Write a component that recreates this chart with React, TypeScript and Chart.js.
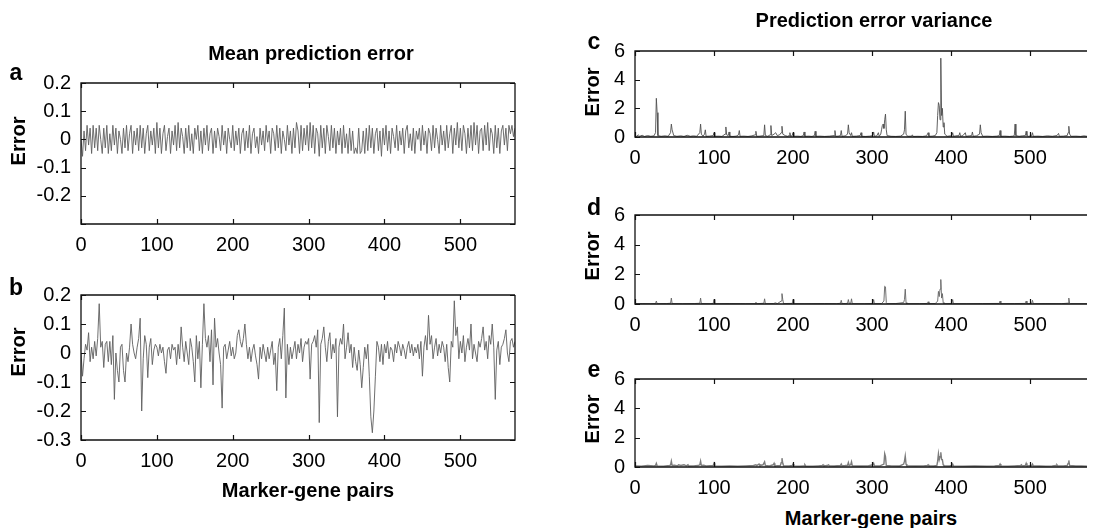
import React, { useEffect, useRef } from 'react';
import { Chart, registerables } from 'chart.js';

Chart.register(...registerables);

const FONT = "'Liberation Sans', Arial, Helvetica, sans-serif";

// x axis: marker-gene pair index (panels a and b sampled every 2 pairs)
const X_MAX = 572;
const X_TICKS = [0, 100, 200, 300, 400, 500];
const pairIndex = Array.from({ length: 287 }, (_, i) => i * 2);

// Panel a: mean prediction error (model 1)
const meanErrorA = [
  0.0, -0.06, 0.03, -0.04, 0.05, -0.02, 0.04, -0.05, 0.05, -0.03,
  0.04, -0.04, 0.05, 0.0, -0.05, 0.04, -0.03, 0.05, -0.05, 0.02,
  -0.04, 0.05, -0.02, 0.04, -0.05, 0.03, 0.0, -0.05, 0.04, -0.03,
  0.05, -0.04, 0.02, 0.05, -0.05, 0.03, -0.02, 0.04, -0.04, 0.05,
  -0.03, 0.04, -0.05, 0.02, 0.05, -0.04, 0.03, -0.02, 0.04, -0.05,
  0.06, -0.03, 0.04, -0.05, 0.02, 0.05, -0.04, 0.01, 0.04, -0.05,
  0.03, -0.02, 0.05, -0.04, 0.06, -0.03, 0.04, 0.01, -0.05, 0.04,
  -0.03, 0.05, -0.04, 0.02, -0.05, 0.04, 0.0, 0.05, -0.04, 0.03,
  -0.05, 0.04, -0.02, 0.05, -0.04, 0.02, 0.04, -0.05, 0.03, -0.03,
  0.04, 0.01, -0.04, 0.05, -0.02, 0.03, -0.05, 0.04, 0.0, -0.03,
  0.05, -0.04, 0.03, -0.02, 0.04, -0.05, 0.02, 0.04, -0.04, 0.03,
  -0.03, 0.05, -0.05, 0.02, 0.04, -0.03, 0.01, -0.05, 0.04, -0.02,
  0.03, -0.04, 0.05, -0.01, 0.03, -0.05, 0.04, 0.02, -0.04, 0.05,
  -0.03, 0.04, -0.05, 0.03, 0.0, -0.04, 0.05, -0.02, 0.03, -0.05,
  0.04, -0.03, 0.06, 0.03, -0.05, 0.05, -0.04, 0.04, -0.02, 0.05,
  -0.04, 0.06, -0.03, 0.05, -0.05, 0.04, 0.02, -0.06, 0.05, -0.03,
  0.04, -0.05, 0.05, 0.01, -0.04, 0.05, -0.03, 0.04, -0.05, 0.03,
  -0.02, 0.04, -0.05, 0.05, -0.03, 0.02, -0.05, 0.04, -0.04, 0.03,
  -0.05, -0.03, -0.05, 0.04, -0.05, -0.04, 0.03, -0.05, 0.04, -0.04,
  0.05, -0.03, 0.04, -0.05, 0.02, 0.04, -0.04, 0.03, -0.06, 0.04,
  -0.02, 0.05, -0.04, 0.03, -0.05, 0.04, 0.01, -0.03, 0.05, -0.04,
  0.03, -0.02, 0.04, -0.05, 0.03, 0.05, -0.03, 0.02, -0.04, 0.04,
  -0.05, 0.03, 0.0, 0.04, -0.04, 0.05, -0.02, 0.03, -0.05, 0.04,
  0.02, -0.04, 0.05, -0.03, 0.04, 0.0, -0.05, 0.05, -0.02, 0.03,
  -0.04, 0.05, -0.03, 0.02, 0.05, -0.05, 0.04, -0.02, 0.06, -0.03,
  0.04, -0.04, 0.05, 0.02, -0.05, 0.04, -0.03, 0.05, -0.04, 0.06,
  -0.02, 0.05, -0.05, 0.03, 0.04, -0.04, 0.05, -0.02, 0.06, -0.04,
  0.04, 0.02, -0.05, 0.05, -0.03, 0.04, -0.05, 0.03, 0.05, -0.02,
  0.04, -0.04, 0.05, 0.02, 0.05, 0.01, 0.04,
];

// Panel b: mean prediction error (model 2)
const meanErrorB = [
  0.0, -0.08, -0.02, 0.03, 0.01, 0.07, -0.03, 0.02, -0.02, 0.04,
  -0.01, 0.05, 0.17, 0.02, 0.04, -0.05, 0.03, 0.04, -0.03, 0.04,
  -0.04, 0.06, -0.16, 0.0, -0.06, -0.1, 0.02, 0.03, -0.06, -0.1,
  0.0, -0.03, 0.02, 0.1, 0.03, 0.0, -0.02, 0.02, 0.05, 0.12,
  -0.2, -0.02, 0.06, 0.03, -0.085, 0.02, 0.05, -0.04, 0.01, 0.03,
  0.02, -0.01, 0.03, 0.0, 0.02, -0.03, -0.07, 0.01, 0.02, -0.02,
  0.03, 0.01, 0.02, -0.04, 0.03, -0.02, 0.09, 0.02, -0.03, 0.04,
  0.0, -0.04, 0.05, 0.02, -0.03, -0.1, 0.06, -0.02, 0.04, -0.12,
  0.03, 0.17, 0.05, 0.02, 0.06, -0.03, 0.08, -0.11, 0.12, 0.02,
  0.05, 0.0, -0.04, -0.19, 0.02, 0.03, -0.02, 0.01, 0.04, -0.01,
  0.02, -0.02, 0.0, 0.06, 0.08, 0.04, 0.02, 0.05, 0.1, 0.03,
  -0.02, 0.02, -0.03, 0.01, 0.03, -0.01, -0.04, -0.09, 0.02, -0.02,
  0.03, 0.0, -0.03, 0.02, -0.02, 0.01, 0.04, -0.04, 0.0, -0.13,
  0.02, 0.05, -0.02, 0.06, 0.155, -0.155, 0.03, -0.04, 0.02, -0.02,
  0.01, 0.04, -0.02, 0.03, 0.0, 0.05, -0.03, 0.02, 0.04, 0.03,
  0.05, -0.09, 0.03, 0.04, 0.06, 0.02, 0.08, -0.24, 0.03, 0.05,
  0.09, 0.02, -0.03, 0.04, 0.07, -0.02, 0.03, 0.0, 0.05, -0.22,
  0.02, 0.05, 0.03, 0.1, -0.02, 0.02, 0.07, 0.0, 0.03, -0.05,
  0.02, -0.03, -0.06, 0.01, -0.04, -0.12, -0.05, 0.02, -0.02, 0.03,
  -0.08, -0.22, -0.275, -0.2, -0.08, 0.04, 0.02, -0.03, 0.03, -0.04,
  0.03, 0.0, 0.04, -0.02, 0.02, 0.01, -0.03, 0.03, 0.0, 0.04,
  0.02, -0.01, 0.03, 0.01, -0.02, 0.02, 0.04, 0.0, 0.03, -0.01,
  0.02, 0.0, 0.03, -0.02, 0.04, -0.08, 0.02, 0.06, 0.01, 0.13,
  0.03, 0.06, -0.02, 0.02, 0.05, -0.01, 0.03, 0.0, 0.04, 0.02,
  -0.03, 0.03, -0.05, -0.1, 0.04, 0.02, 0.18, 0.06, 0.09, -0.02,
  0.04, 0.0, 0.06, -0.03, 0.02, 0.05, 0.01, 0.1, -0.02, 0.03,
  0.0, -0.03, 0.04, 0.02, 0.05, 0.09, 0.01, 0.04, -0.02, 0.06,
  0.03, 0.1, 0.02, -0.16, 0.01, 0.04, -0.04, 0.02, 0.03, 0.05,
  0.08, 0.0, -0.03, 0.04, 0.05, 0.02, 0.04,
];

// Panel c: prediction error variance, [pair index, variance]
const varianceC: [number, number][] = [
  [0,0.15],[2,0.05],[4,0.15],[6,0.05],[9,0.12],[12,0.04],[16,0.1],[20,0.05],[24,0.08],[26,0.3],[27,2.7],[28,1.7],[29,0.1],
  [33,0.05],[38,0.08],[42,0.05],[45,0.3],[46,0.9],[47,0.5],[49,0.1],[53,0.05],[58,0.08],[62,0.04],[66,0.12],[70,0.05],
  [74,0.08],[78,0.05],[82,0.3],[83,0.9],[84,0.2],[86,0.05],[88,0.2],[89,0.5],[90,0.05],[94,0.06],[99,0.1],[100,0.3],
  [101,0.05],[106,0.06],[110,0.04],[114,0.2],[115,0.7],[116,0.15],[118,0.1],[119,0.35],[120,0.05],[124,0.04],[128,0.06],
  [131,0.15],[132,0.45],[133,0.05],[138,0.06],[143,0.04],[148,0.08],[152,0.15],[153,0.4],[154,0.05],[158,0.06],[163,0.1],
  [164,0.85],[165,0.1],[168,0.05],[171,0.15],[172,0.8],[173,0.1],[176,0.2],[178,0.3],[180,0.1],[183,0.15],[185,0.3],
  [186,0.75],[187,0.2],[190,0.1],[193,0.05],[195,0.1],[196,0.3],[197,0.05],[199,0.1],[200,0.3],[201,0.05],[206,0.06],
  [210,0.04],[213,0.1],[214,0.35],[215,0.05],[220,0.06],[224,0.04],[227,0.1],[228,0.4],[229,0.05],[234,0.06],[240,0.04],
  [246,0.06],[252,0.1],[253,0.45],[254,0.05],[257,0.06],[260,0.1],[261,0.45],[262,0.05],[266,0.08],[269,0.2],[270,0.85],
  [271,0.3],[273,0.1],[274,0.3],[275,0.05],[280,0.06],[285,0.1],[286,0.3],[287,0.05],[292,0.04],[297,0.06],[301,0.1],
  [302,0.35],[303,0.05],[306,0.08],[308,0.3],[309,0.05],[311,0.2],[312,0.5],[313,0.8],[314,0.9],[315,0.6],[316,1.2],
  [317,1.6],[318,0.5],[319,0.1],[324,0.05],[330,0.04],[336,0.06],[340,0.2],[341,0.5],[342,1.8],[343,0.2],[345,0.05],
  [350,0.06],[351,0.15],[352,0.04],[358,0.05],[364,0.04],[369,0.08],[371,0.3],[372,0.05],[376,0.06],[380,0.1],[382,0.3],
  [383,1.5],[384,2.4],[385,2.2],[386,1.2],[387,5.5],[388,1.5],[389,2.0],[390,0.7],[391,1.0],[392,0.2],[395,0.05],
  [399,0.08],[401,0.1],[402,0.3],[403,0.05],[406,0.08],[410,0.1],[411,0.3],[412,0.05],[415,0.1],[418,0.3],[419,0.05],
  [423,0.08],[426,0.1],[427,0.35],[428,0.05],[432,0.08],[436,0.2],[437,0.85],[438,0.3],[440,0.05],[446,0.06],[452,0.04],
  [458,0.06],[461,0.1],[462,0.45],[463,0.05],[468,0.06],[474,0.04],[478,0.06],[480,0.1],[481,0.9],[482,0.1],[486,0.05],
  [490,0.08],[494,0.1],[495,0.4],[496,0.1],[498,0.05],[502,0.1],[503,0.3],[504,0.05],[510,0.06],[516,0.04],[522,0.08],
  [528,0.05],[534,0.1],[536,0.25],[537,0.05],[542,0.06],[547,0.1],[548,0.3],[549,0.75],[550,0.2],[552,0.05],[558,0.06],
  [564,0.04],[568,0.08],[572,0.05],
];

// Panel d
const varianceD: [number, number][] = [
  [0,0.02],[10,0.03],[20,0.02],[26,0.03],[27,0.2],[28,0.02],[40,0.03],[45,0.05],[46,0.4],[47,0.03],[60,0.02],[75,0.03],
  [82,0.05],[83,0.4],[84,0.03],[95,0.02],[99,0.04],[100,0.3],[101,0.02],[120,0.03],[140,0.02],[152,0.02],[153,0.12],
  [154,0.02],[163,0.05],[164,0.35],[165,0.02],[175,0.03],[178,0.08],[180,0.02],[185,0.2],[186,0.7],[187,0.3],[188,0.03],
  [199,0.04],[200,0.3],[201,0.02],[215,0.02],[240,0.03],[255,0.02],[260,0.05],[261,0.25],[262,0.02],[266,0.03],[269,0.05],
  [270,0.3],[271,0.05],[273,0.05],[274,0.35],[275,0.02],[290,0.02],[301,0.04],[302,0.3],[303,0.02],[312,0.03],[315,0.2],
  [316,1.2],[317,1.15],[318,0.1],[319,0.02],[330,0.03],[340,0.1],[341,0.3],[342,1.0],[343,0.1],[344,0.02],[360,0.02],
  [370,0.04],[371,0.15],[372,0.02],[380,0.03],[383,0.2],[384,0.85],[385,0.5],[386,1.0],[387,1.65],[388,0.4],[389,0.7],
  [390,0.1],[391,0.02],[401,0.04],[402,0.3],[403,0.02],[420,0.02],[440,0.03],[461,0.04],[462,0.2],[463,0.02],[480,0.03],
  [494,0.04],[495,0.2],[496,0.02],[502,0.04],[503,0.25],[504,0.02],[520,0.03],[540,0.02],[548,0.06],[549,0.4],[550,0.05],
  [551,0.02],[572,0.02],
];

// Panel e
const varianceE: [number, number][] = [
  [0,0.08],[8,0.06],[16,0.1],[24,0.08],[26,0.1],[27,0.25],[28,0.08],[36,0.06],[44,0.1],[45,0.15],[46,0.4],[47,0.1],
  [50,0.12],[54,0.08],[55,0.15],[58,0.1],[62,0.15],[65,0.08],[67,0.15],[68,0.07],[74,0.08],[80,0.1],[82,0.15],[83,0.4],
  [84,0.1],[87,0.12],[90,0.08],[99,0.1],[100,0.25],[101,0.08],[110,0.06],[120,0.08],[130,0.06],[140,0.08],[150,0.1],
  [153,0.15],[154,0.1],[157,0.2],[158,0.1],[162,0.15],[164,0.35],[165,0.1],[170,0.08],[175,0.15],[176,0.25],[177,0.08],
  [184,0.1],[185,0.3],[186,0.6],[187,0.25],[188,0.08],[195,0.08],[199,0.1],[200,0.2],[201,0.08],[208,0.06],[214,0.08],
  [215,0.15],[216,0.07],[225,0.06],[232,0.08],[237,0.1],[238,0.15],[239,0.08],[243,0.1],[245,0.15],[246,0.08],[252,0.07],
  [260,0.1],[261,0.2],[262,0.08],[266,0.1],[269,0.12],[270,0.3],[271,0.1],[273,0.15],[274,0.35],[275,0.08],[285,0.07],
  [295,0.08],[301,0.15],[302,0.25],[303,0.08],[310,0.08],[315,0.2],[316,0.9],[317,0.7],[318,0.1],[325,0.08],[335,0.07],
  [340,0.2],[341,0.4],[342,0.75],[343,0.2],[344,0.08],[355,0.07],[365,0.08],[370,0.1],[371,0.15],[372,0.08],[378,0.07],
  [382,0.1],[383,0.4],[384,0.9],[385,0.5],[386,0.7],[387,1.0],[388,0.5],[389,0.5],[390,0.15],[391,0.08],[398,0.07],
  [401,0.1],[402,0.2],[403,0.08],[415,0.06],[430,0.07],[445,0.06],[455,0.08],[461,0.1],[462,0.2],[463,0.08],[472,0.06],
  [480,0.08],[488,0.1],[489,0.15],[490,0.08],[494,0.1],[495,0.25],[496,0.08],[502,0.1],[503,0.2],[504,0.08],[512,0.07],
  [520,0.06],[528,0.08],[533,0.1],[534,0.15],[535,0.08],[542,0.08],[547,0.1],[548,0.25],[549,0.45],[550,0.1],[558,0.07],
  [565,0.08],[572,0.06],
];

type PanelProps = {
  points: { x: number; y: number }[];
  canvasLeft: number;
  canvasTop: number;
  plotLeft: number;
  plotRight: number;
  plotTop: number;
  plotBottom: number;
  canvasWidth: number;
  yMin: number;
  yMax: number;
  yStep: number;
  hideY?: number[];
  drawRight?: boolean;
  lineColor: string;
  lineWidth: number;
};

const PAD_TOP = 10;
const X_AXIS_H = 40;

function Panel(p: PanelProps) {
  const ref = useRef<HTMLCanvasElement | null>(null);
  const width = p.canvasWidth;
  const height = p.plotBottom - p.canvasTop + X_AXIS_H;
  useEffect(() => {
    if (!ref.current) return;
    const yAxisW = p.plotLeft - p.canvasLeft;
    const padRight = p.canvasLeft + width - p.plotRight;
    const boxPlugin = {
      id: 'box',
      afterDatasetsDraw(chart: any) {
        const { ctx, chartArea } = chart;
        const { left, right, top, bottom } = chartArea;
        const xs = chart.scales.x;
        const ys = chart.scales.y;
        ctx.save();
        ctx.strokeStyle = '#111';
        ctx.lineWidth = 1.3;
        ctx.beginPath();
        ctx.moveTo(right, top);
        ctx.lineTo(left, top);
        ctx.lineTo(left, bottom);
        ctx.lineTo(right, bottom);
        if (p.drawRight) ctx.lineTo(right, top);
        ctx.stroke();
        ctx.lineWidth = 1.2;
        ctx.beginPath();
        X_TICKS.forEach((v) => {
          const px = Math.round(xs.getPixelForValue(v)) + 0.5;
          ctx.moveTo(px, top);
          ctx.lineTo(px, top + 5);
          ctx.moveTo(px, bottom);
          ctx.lineTo(px, bottom - 5);
        });
        ys.ticks.forEach((t: any) => {
          const py = Math.round(ys.getPixelForValue(t.value)) + 0.5;
          ctx.moveTo(left, py);
          ctx.lineTo(left + 5, py);
          if (p.drawRight) {
            ctx.moveTo(right, py);
            ctx.lineTo(right - 5, py);
          }
        });
        ctx.stroke();
        ctx.restore();
      },
    };
    const chart = new Chart(ref.current, {
      type: 'line',
      data: {
        datasets: [
          {
            data: p.points,
            borderColor: p.lineColor,
            borderWidth: p.lineWidth,
            pointRadius: 0,
            fill: false,
            tension: 0,
          },
        ],
      },
      options: {
        responsive: false,
        animation: false,
        devicePixelRatio: 1,
        layout: { padding: { top: PAD_TOP, right: padRight, left: 0, bottom: 0 } },
        plugins: { legend: { display: false }, tooltip: { enabled: false } },
        scales: {
          x: {
            type: 'linear',
            min: 0,
            max: X_MAX,
            afterFit: (s: any) => {
              s.height = X_AXIS_H;
            },
            grid: { display: false, drawTicks: false },
            border: { display: false },
            ticks: {
              stepSize: 100,
              includeBounds: false,
              autoSkip: false,
              maxRotation: 0,
              padding: 9,
              color: '#000',
              font: { size: 20, family: FONT },
              callback: (v: any) => String(v),
            },
          },
          y: {
            type: 'linear',
            min: p.yMin,
            max: p.yMax,
            afterFit: (s: any) => {
              s.width = yAxisW;
            },
            grid: { display: false, drawTicks: false },
            border: { display: false },
            ticks: {
              stepSize: p.yStep,
              autoSkip: false,
              padding: 10,
              color: '#000',
              font: { size: 20, family: FONT },
              callback: (v: any) => {
                const r = Math.round(Number(v) * 10) / 10;
                if (p.hideY && p.hideY.some((h) => Math.abs(h - r) < 1e-9)) return '';
                return String(r);
              },
            },
          },
        },
      },
      plugins: [boxPlugin],
    } as any);
    return () => chart.destroy();
  }, []);
  return (
    <canvas
      ref={ref}
      width={width}
      height={height}
      style={{ position: 'absolute', left: p.canvasLeft, top: p.canvasTop, width, height }}
    />
  );
}

function Label({ x, y, text, size = 20, rotate = false }: { x: number; y: number; text: string; size?: number; rotate?: boolean }) {
  return (
    <div
      style={{
        position: 'absolute',
        left: x,
        top: y,
        transform: `translate(-50%, -50%)${rotate ? ' rotate(-90deg)' : ''}`,
        fontFamily: FONT,
        fontWeight: 'bold',
        fontSize: size,
        lineHeight: 1,
        whiteSpace: 'nowrap',
        color: '#000',
      }}
    >
      {text}
    </div>
  );
}

export default function App() {
  const aPts = pairIndex.map((x, i) => ({ x, y: meanErrorA[i] }));
  const bPts = pairIndex.map((x, i) => ({ x, y: meanErrorB[i] }));
  const cPts = varianceC.map(([x, y]) => ({ x, y }));
  const dPts = varianceD.map(([x, y]) => ({ x, y }));
  const ePts = varianceE.map(([x, y]) => ({ x, y }));
  const leftCommon = { canvasLeft: 0, plotLeft: 81, plotRight: 515, canvasWidth: 532, yMin: -0.3, yMax: 0.2, yStep: 0.1, drawRight: true };
  const rightCommon = { canvasLeft: 560, plotLeft: 635, plotRight: 1087, canvasWidth: 538, yMin: 0, yMax: 6, yStep: 2, drawRight: false };
  return (
    <div style={{ position: 'fixed', left: 0, top: 0, width: 1098, height: 528, overflow: 'hidden', background: '#fff' }}>
      <Panel {...leftCommon} points={aPts} canvasTop={61} plotTop={71} plotBottom={224} hideY={[-0.3]} lineColor="rgba(95,95,95,0.9)" lineWidth={1} />
      <Panel {...leftCommon} points={bPts} canvasTop={273} plotTop={283} plotBottom={440} lineColor="rgba(95,95,95,0.9)" lineWidth={1} />
      <Panel {...rightCommon} points={cPts} canvasTop={29} plotTop={39} plotBottom={137} lineColor="rgba(80,80,80,0.9)" lineWidth={1} />
      <Panel {...rightCommon} points={dPts} canvasTop={193} plotTop={203} plotBottom={304} lineColor="rgba(100,100,100,0.9)" lineWidth={1} />
      <Panel {...rightCommon} points={ePts} canvasTop={357} plotTop={367} plotBottom={467} lineColor="rgba(110,110,110,0.9)" lineWidth={1.4} />

      <Label x={311} y={53} text="Mean prediction error" />
      <Label x={16} y={72} text="a" size={23} />
      <Label x={18} y={141} text="Error" rotate />
      <Label x={16} y={287} text="b" size={23} />
      <Label x={18} y={352} text="Error" rotate />
      <Label x={308} y={490} text="Marker-gene pairs" />

      <Label x={874} y={20} text="Prediction error variance" />
      <Label x={594} y={41} text="c" size={23} />
      <Label x={592} y={92} text="Error" rotate />
      <Label x={594} y={207} text="d" size={23} />
      <Label x={592} y={256} text="Error" rotate />
      <Label x={594} y={369} text="e" size={23} />
      <Label x={592} y={419} text="Error" rotate />
      <Label x={871} y={518} text="Marker-gene pairs" />
    </div>
  );
}
